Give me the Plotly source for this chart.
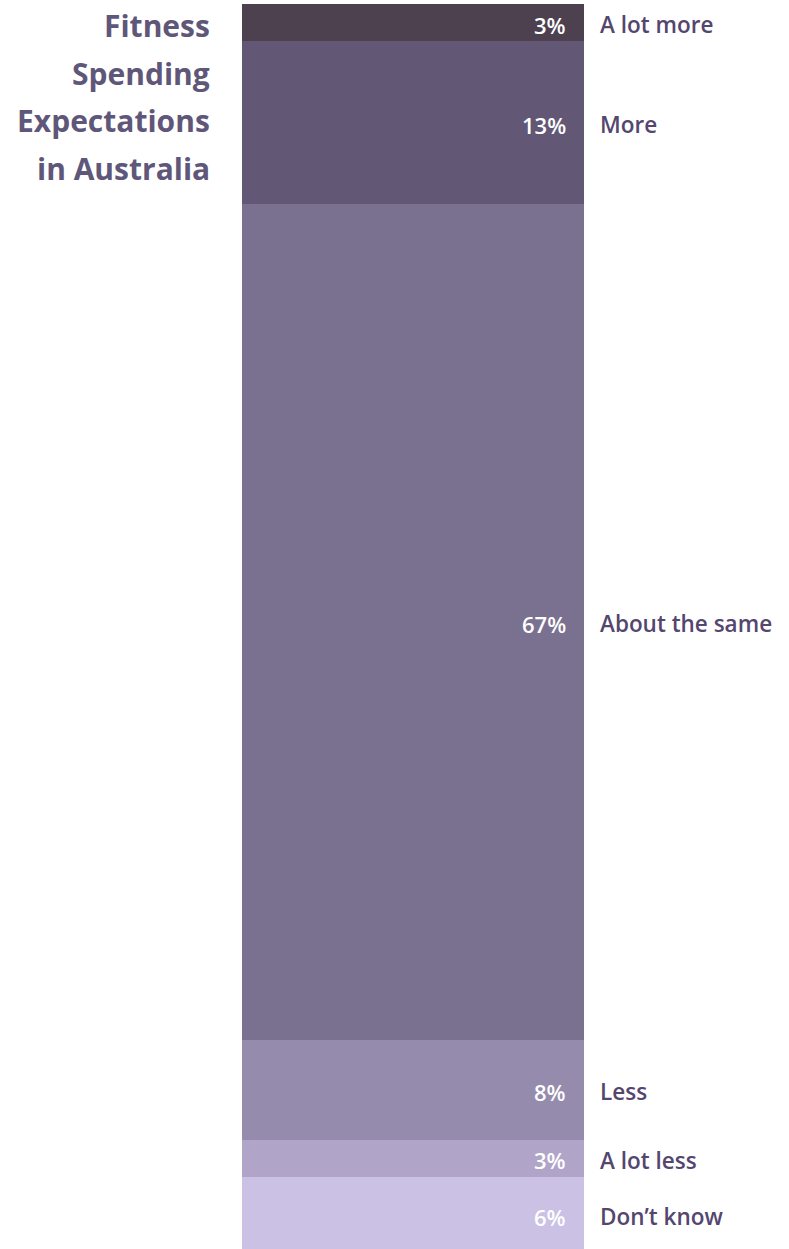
import plotly.graph_objects as go

categories = ["A lot more", "More", "About the same", "Less", "A lot less", "Don’t know"]
values = [3, 13, 67, 8, 3, 6]
pct_labels = ["3%", "13%", "67%", "8%", "3%", "6%"]
colors = ["#4d414f", "#625876", "#7a7190", "#958bad", "#b0a5c9", "#cbc1e5"]
title_lines = ["Fitness", "Spending", "Expectations", "in Australia"]

W, H = 789, 1249
fig = go.Figure()
bases = []
acc = 0
for v in values:
    bases.append(acc)
    acc += v

for cat, v, b, c in zip(categories, values, bases, colors):
    fig.add_trace(go.Bar(
        x=[0], y=[v], base=[b], width=[1], name=cat,
        marker=dict(color=c, line=dict(width=0)),
        hoverinfo="skip", showlegend=False,
    ))

FONT = "Open Sans"
for cat, v, b, p in zip(categories, values, bases, pct_labels):
    mid = b + v / 2
    fig.add_annotation(x=0.5, y=mid, xref="x", yref="y", text=p, showarrow=False,
                       xanchor="right", yanchor="middle", xshift=-16, yshift=-2,
                       font=dict(family=FONT, size=22, color="#ffffff", weight=600))
    fig.add_annotation(x=0.5, y=mid, xref="x", yref="y", text=cat, showarrow=False,
                       xanchor="left", yanchor="middle", xshift=14, yshift=-2,
                       font=dict(family=FONT, size=22.5, color="#54466e", weight=600))

title_y = [25, 73, 120, 168]
for line, py in zip(title_lines, title_y):
    fig.add_annotation(x=212 / W, y=1 - py / H, xref="paper", yref="paper", text=line,
                       showarrow=False, xanchor="right", yanchor="middle",
                       font=dict(family=FONT, size=30, color="#5f5779", weight=700))

scale = 12.48
top_px = 4
fig.update_layout(
    width=W, height=H, margin=dict(l=0, r=0, t=0, b=0),
    paper_bgcolor="white", plot_bgcolor="white",
    barmode="overlay", bargap=0,
    xaxis=dict(range=[-0.5 - 242 / 342, 0.5 + (W - 584) / 342], visible=False, fixedrange=True),
    yaxis=dict(range=[(H - top_px) / scale, -top_px / scale], visible=False, fixedrange=True),
)
fig.write_html("out.html")
